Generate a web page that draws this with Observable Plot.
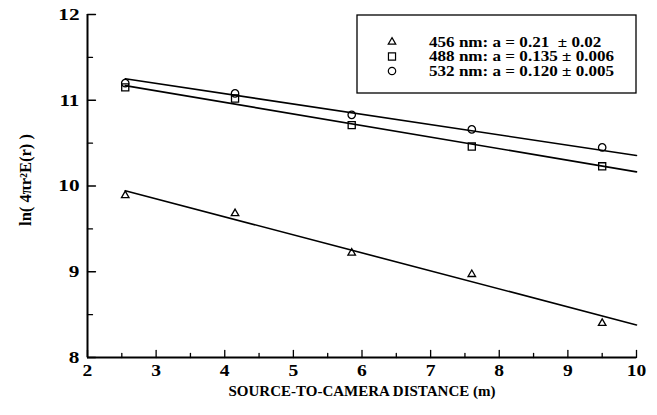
<!DOCTYPE html>
<html>
<head>
<meta charset="utf-8">
<script src="https://cdn.jsdelivr.net/npm/d3@7"></script>
<script src="https://cdn.jsdelivr.net/npm/@observablehq/plot@0.6"></script>
<style>
  body { margin: 0; background: #fff; }
  #chart svg { overflow: visible; }
</style>
</head>
<body>
<div id="chart"></div>
<script>
// Source-to-camera distance (m) for each measurement
const distance = [2.55, 4.15, 5.85, 7.6, 9.5];
// ln(4πr²E(r)) measured at each wavelength
const ln456 = [9.89, 9.68, 9.22, 8.97, 8.40];
const ln488 = [11.15, 11.02, 10.71, 10.46, 10.23];
const ln532 = [11.20, 11.08, 10.83, 10.66, 10.45];

// Fitted attenuation coefficients a (slope of the fit) and their errors
const wavelengths = ["456 nm", "488 nm", "532 nm"];
const slopeA = [0.21, 0.135, 0.120];
const slopeLabel = ["0.21 ", "0.135", "0.120"];
const slopeErr = ["0.02", "0.006", "0.005"];
// Intercepts of the fitted lines ln = c − a·r
const intercepts = [10.48, 11.515, 11.556];
const fitRange = [2.55, 10];

const xTicks = [2, 3, 4, 5, 6, 7, 8, 9, 10];
const xMinor = [2.5, 3.5, 4.5, 5.5, 6.5, 7.5, 8.5, 9.5];
const yTicks = [8, 9, 10, 11, 12];
const yMinor = [8.5, 9.5, 10.5, 11.5];

const series = [ln456, ln488, ln532];
const symbols = ["triangle", "square", "circle"];
const radii = [2.8, 4.0, 3.7];

const points = series.flatMap((vals, s) =>
  vals.map((v, i) => ({series: wavelengths[s], x: distance[i], y: v})));
const fits = wavelengths.flatMap((w, s) =>
  fitRange.map(x => ({series: w, x, y: intercepts[s] - slopeA[s] * x})));

// a plain line segment used for inward-pointing tick marks
const tickShape = {draw(context, l) { context.moveTo(0, 0); context.lineTo(0, -l); }};

const serif = "'Liberation Serif', 'Times New Roman', serif";

const chart = Plot.plot({
  width: 657,
  height: 415,
  marginLeft: 87,
  marginRight: 21,
  marginTop: 14,
  marginBottom: 58,
  x: {domain: [2, 10]},
  y: {domain: [8, 12]},
  style: {fontFamily: serif, fontWeight: "bold", fontSize: "16px", color: "black", background: "white"},
  marks: [
    Plot.line(fits, {x: "x", y: "y", z: "series", stroke: "black", strokeWidth: 1.6}),
    ...wavelengths.map((w, s) =>
      Plot.dot(points.filter(d => d.series === w), {
        x: "x", y: "y", symbol: () => symbols[s], r: radii[s],
        stroke: "black", strokeWidth: 1.3, fill: "none"
      })),
    Plot.ruleY([8], {stroke: "black", strokeWidth: 2}),
    Plot.ruleX([2], {stroke: "black", strokeWidth: 2}),
    Plot.vector(xTicks, {x: d => d, frameAnchor: "bottom", rotate: 0, anchor: "start", length: 7, shape: tickShape, stroke: "black", strokeWidth: 1.3}),
    Plot.vector(xMinor, {x: d => d, frameAnchor: "bottom", rotate: 0, anchor: "start", length: 4, shape: tickShape, stroke: "black", strokeWidth: 1.3}),
    Plot.vector(yTicks, {y: d => d, frameAnchor: "left", rotate: 90, anchor: "start", length: 8, shape: tickShape, stroke: "black", strokeWidth: 1.3}),
    Plot.vector(yMinor, {y: d => d, frameAnchor: "left", rotate: 90, anchor: "start", length: 5, shape: tickShape, stroke: "black", strokeWidth: 1.3}),
    Plot.axisX(xTicks, {tickSize: 0, tickPadding: 6, tickFormat: d => String(d), fontSize: 17, label: null}),
    Plot.axisY(yTicks, {tickSize: 0, tickPadding: 8, tickFormat: d => String(d), fontSize: 17, label: null}),
    Plot.text(["SOURCE-TO-CAMERA DISTANCE (m)"], {frameAnchor: "bottom", dy: 38, text: d => d, fontSize: 15}),
    Plot.text(["ln( 4πr²E(r) )"], {frameAnchor: "left", textAnchor: "middle", dx: -62, dy: -6, rotate: -90, text: d => d, fontSize: 16.5})
  ]
});

document.getElementById("chart").appendChild(chart);

// Stretch text horizontally about its anchor, to the wide bold serif of the axes
function widen(sel, k) {
  sel.each(function() {
    const t = d3.select(this);
    let tr = t.attr("transform");
    if (!tr) {
      tr = `translate(${+t.attr("x") || 0},${+t.attr("y") || 0})`;
      t.attr("x", null).attr("y", null);
    }
    t.attr("transform", `${tr} scale(${k},1)`);
  });
}
const svg = d3.select(chart);
widen(svg.selectAll("g[aria-label='x-axis tick label'] text"), 1.15);
widen(svg.selectAll("g[aria-label='y-axis tick label'] text"), 1.25);

// Legend box in the upper-right corner of the frame
const xs = chart.scale("x"), ys = chart.scale("y");
const frameRight = xs.apply(10), frameTop = ys.apply(12);
const legend = svg.append("g")
  .attr("font-family", serif).attr("font-weight", "bold").attr("font-size", 14)
  .attr("text-anchor", "start");
legend.append("rect")
  .attr("x", frameRight - 279).attr("y", frameTop + 1).attr("width", 279).attr("height", 78)
  .attr("fill", "white").attr("stroke", "black").attr("stroke-width", 1.3);
wavelengths.forEach((w, s) => {
  const cy = frameTop + 28 + s * 14.5;
  const symType = d3["symbol" + symbols[s][0].toUpperCase() + symbols[s].slice(1)];
  legend.append("path")
    .attr("d", d3.symbol(symType, Math.PI * radii[s] * radii[s])())
    .attr("transform", `translate(${frameRight - 244},${cy})`)
    .attr("fill", "none").attr("stroke", "black").attr("stroke-width", 1.2);
  legend.append("text")
    .attr("transform", `translate(${frameRight - 207},${cy}) scale(1.22,1)`)
    .attr("dy", "0.35em")
    .style("white-space", "pre")
    .text(`${w}: a = ${slopeLabel[s]} ± ${slopeErr[s]}`);
});
</script>
</body>
</html>
